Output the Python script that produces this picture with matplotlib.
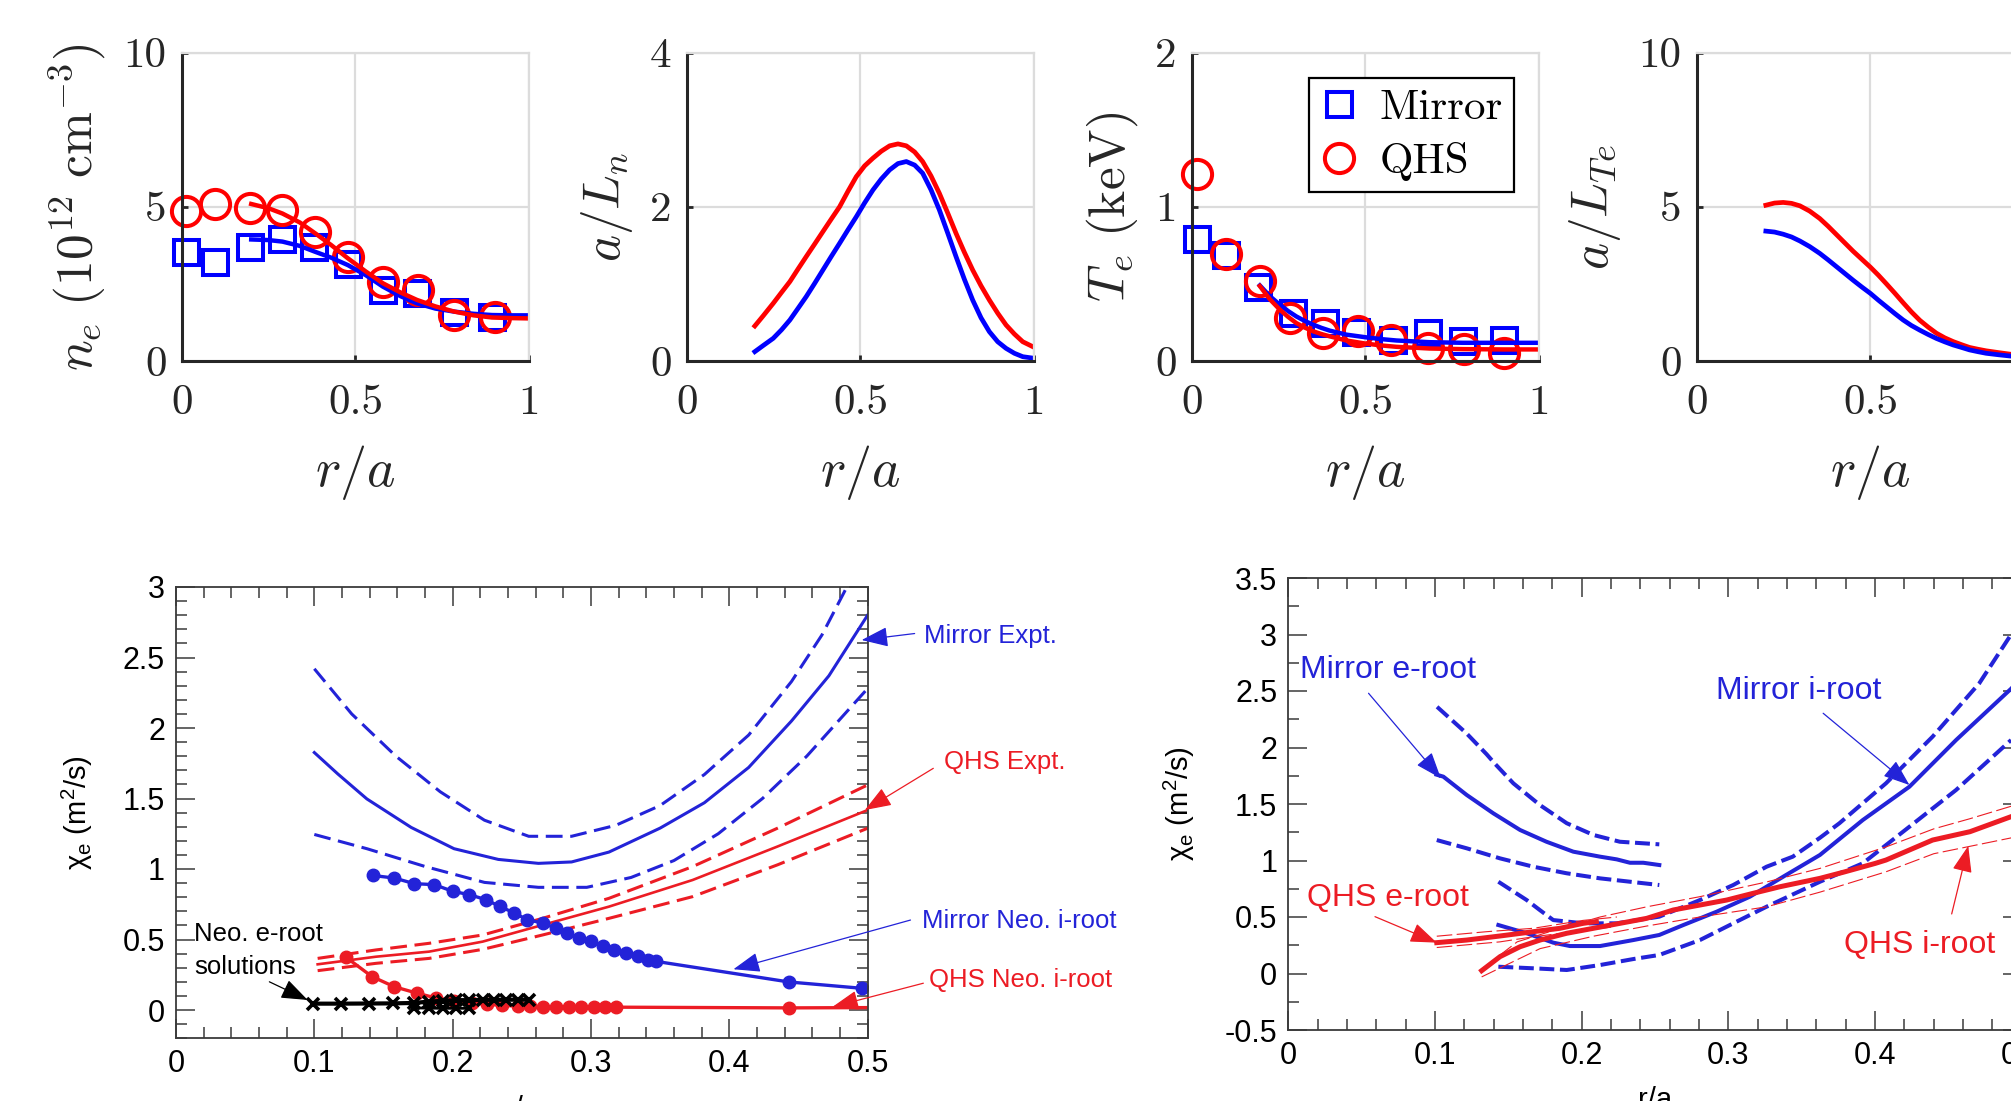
import numpy as np
import matplotlib
matplotlib.use("Agg")
import matplotlib.pyplot as plt
from matplotlib.ticker import MultipleLocator

plt.rcParams['mathtext.fontset'] = 'cm'
plt.rcParams['mathtext.rm'] = 'Liberation Sans'
plt.rcParams['mathtext.it'] = 'Liberation Sans:italic'
plt.rcParams['axes.unicode_minus'] = False
plt.rcParams['font.family'] = ['Liberation Sans', 'DejaVu Sans']

# ---------------- top row data ----------------
# density profile
ne_r = [0.012, 0.096, 0.197, 0.29, 0.381, 0.478, 0.579, 0.677, 0.785, 0.893]
ne_mirror = [3.54, 3.22, 3.70, 3.95, 3.70, 3.16, 2.30, 2.19, 1.60, 1.44]
ne_qhs_r = [0.012, 0.096, 0.197, 0.29, 0.384, 0.478, 0.579, 0.681, 0.785, 0.902]
ne_qhs = [4.87, 5.09, 4.95, 4.89, 4.19, 3.38, 2.57, 2.30, 1.49, 1.44]
nefit_r = [0.2, 0.25, 0.29, 0.34, 0.384, 0.43, 0.478, 0.53, 0.579, 0.63, 0.677, 0.73, 0.785, 0.84, 0.893, 0.95, 1.0]
nefit_mirror = [3.94, 3.92, 3.87, 3.73, 3.54, 3.35, 3.11, 2.78, 2.41, 2.10, 1.87, 1.70, 1.60, 1.53, 1.49, 1.48, 1.48]
nefit_qhs = [5.09, 4.95, 4.78, 4.49, 4.14, 3.76, 3.33, 2.90, 2.52, 2.22, 1.98, 1.77, 1.60, 1.48, 1.41, 1.39, 1.38]

# a/Ln
aln_r = [0.196, 0.22, 0.249, 0.273, 0.297, 0.32, 0.344, 0.368, 0.392, 0.416, 0.44, 0.464,
         0.488, 0.512, 0.536, 0.56, 0.584, 0.608, 0.632, 0.656, 0.679, 0.703, 0.727, 0.751,
         0.775, 0.799, 0.823, 0.847, 0.871, 0.895, 0.919, 0.943, 0.967, 1.0]
aln_qhs = [0.454, 0.585, 0.748, 0.89, 1.03, 1.19, 1.354, 1.515, 1.678, 1.84, 2.0, 2.2,
           2.39, 2.53, 2.63, 2.72, 2.79, 2.815, 2.79, 2.71, 2.586, 2.40, 2.175, 1.92,
           1.656, 1.41, 1.18, 0.975, 0.79, 0.62, 0.467, 0.35, 0.25, 0.177]
aln_mirror = [0.121, 0.2, 0.294, 0.405, 0.532, 0.68, 0.835, 1.005, 1.18, 1.355, 1.526, 1.70,
              1.87, 2.05, 2.218, 2.36, 2.478, 2.56, 2.586, 2.54, 2.435, 2.22, 1.96, 1.66,
              1.354, 1.06, 0.79, 0.56, 0.38, 0.25, 0.164, 0.10, 0.056, 0.035]

# temperature profile
te_r = [0.014, 0.098, 0.191, 0.292, 0.383, 0.474, 0.579, 0.679, 0.78, 0.9]
te_mirror = [0.792, 0.685, 0.478, 0.31, 0.246, 0.186, 0.139, 0.182, 0.128, 0.139]
te_qhs_r = [0.015, 0.098, 0.196, 0.282, 0.378, 0.478, 0.574, 0.679, 0.785, 0.9]
te_qhs = [1.21, 0.696, 0.52, 0.278, 0.182, 0.193, 0.139, 0.086, 0.075, 0.054]
tefit_r = [0.196, 0.225, 0.254, 0.278, 0.301, 0.325, 0.349, 0.373, 0.397, 0.445, 0.5, 0.545,
           0.589, 0.684, 0.78, 0.9, 1.0]
tefit_mirror = [0.49, 0.42, 0.364, 0.323, 0.289, 0.26, 0.236, 0.215, 0.197, 0.171, 0.154, 0.142,
                0.133, 0.122, 0.118, 0.118, 0.118]
tefit_qhs = [0.486, 0.40, 0.332, 0.285, 0.246, 0.217, 0.193, 0.175, 0.16, 0.133, 0.113, 0.101,
             0.092, 0.081, 0.077, 0.075, 0.075]

# a/LTe
alt_r = [0.199, 0.224, 0.249, 0.273, 0.297, 0.325, 0.354, 0.378, 0.402, 0.426, 0.45, 0.475,
         0.5, 0.523, 0.546, 0.57, 0.594, 0.618, 0.642, 0.666, 0.69, 0.714, 0.738, 0.762,
         0.785, 0.81, 0.833, 0.87, 0.903, 1.0]
alt_qhs = [5.05, 5.12, 5.14, 5.11, 5.03, 4.86, 4.62, 4.37, 4.1, 3.83, 3.56, 3.3,
           3.04, 2.78, 2.5, 2.2, 1.89, 1.59, 1.32, 1.1, 0.9, 0.75, 0.63, 0.53,
           0.44, 0.38, 0.33, 0.27, 0.22, 0.12]
alt_mirror = [4.21, 4.18, 4.11, 4.02, 3.89, 3.71, 3.49, 3.28, 3.06, 2.84, 2.62, 2.40,
              2.19, 1.97, 1.76, 1.54, 1.33, 1.15, 1.0, 0.86, 0.73, 0.62, 0.52, 0.44,
              0.36, 0.30, 0.25, 0.2, 0.16, 0.08]

# ---------------- bottom-left data (neoclassical vs expt.) ----------------
mx_r = [0.1, 0.117, 0.138, 0.17, 0.201, 0.233, 0.262, 0.286, 0.313, 0.35, 0.382, 0.414, 0.445, 0.472, 0.5]
mx_mid = [1.826, 1.674, 1.497, 1.295, 1.144, 1.068, 1.04, 1.05, 1.12, 1.29, 1.47, 1.72, 2.05, 2.37, 2.8]
mx_up_r = [0.1, 0.127, 0.159, 0.191, 0.223, 0.255, 0.286, 0.318, 0.35, 0.382, 0.414, 0.445, 0.467, 0.485]
mx_up = [2.42, 2.10, 1.80, 1.548, 1.346, 1.232, 1.232, 1.31, 1.45, 1.67, 1.95, 2.33, 2.66, 3.0]
mx_lo_r = [0.1, 0.138, 0.18, 0.223, 0.262, 0.297, 0.329, 0.36, 0.392, 0.424, 0.456, 0.5]
mx_lo = [1.245, 1.144, 1.018, 0.905, 0.87, 0.87, 0.94, 1.06, 1.25, 1.5, 1.8, 2.28]

qx_r = [0.1024, 0.1446, 0.183, 0.2217, 0.265, 0.313, 0.3735, 0.435, 0.5]
qx_mid = [0.324, 0.378, 0.414, 0.485, 0.603, 0.733, 0.922, 1.16, 1.418]
qx_up = [0.366, 0.426, 0.473, 0.532, 0.65, 0.792, 1.017, 1.29, 1.596]
qx_lo = [0.279, 0.331, 0.366, 0.43, 0.532, 0.65, 0.804, 1.03, 1.289]

mneo_r = [0.1422, 0.1578, 0.1723, 0.1868, 0.2, 0.212, 0.224, 0.234, 0.2446, 0.254, 0.265,
          0.2747, 0.283, 0.2916, 0.3, 0.3084, 0.317, 0.3253, 0.3337, 0.341, 0.347, 0.443, 0.4957]
mneo = [0.954, 0.936, 0.896, 0.889, 0.842, 0.818, 0.783, 0.735, 0.688, 0.64, 0.617,
        0.581, 0.546, 0.51, 0.487, 0.452, 0.428, 0.404, 0.381, 0.357, 0.345, 0.199, 0.154]

qneo_r = [0.1229, 0.1417, 0.1578, 0.174, 0.188, 0.201, 0.214, 0.225, 0.236, 0.247, 0.256,
          0.265, 0.275, 0.284, 0.293, 0.302, 0.31, 0.318, 0.443, 0.5]
qneo = [0.374, 0.237, 0.165, 0.12, 0.085, 0.065, 0.05, 0.04, 0.033, 0.028, 0.026,
        0.024, 0.022, 0.022, 0.021, 0.021, 0.02, 0.02, 0.015, 0.017]

eroot_r = [0.0993, 0.1193, 0.1393, 0.1566, 0.1723, 0.1831, 0.1928, 0.2024, 0.212, 0.2217,
           0.2301, 0.2385, 0.247, 0.2554]
eroot = [0.045, 0.045, 0.046, 0.047, 0.05, 0.06, 0.065, 0.07, 0.07, 0.072, 0.072, 0.073, 0.073, 0.073]
eroot2_r = [0.1723, 0.1831, 0.1928, 0.2024, 0.212]
eroot2 = [0.015, 0.013, 0.012, 0.012, 0.012]

# ---------------- bottom-right data ----------------
me_r = [0.101, 0.1057, 0.1216, 0.1397, 0.158, 0.176, 0.1943, 0.2125, 0.2239, 0.2329, 0.242, 0.2529]
me_mid = [1.76, 1.742, 1.58, 1.418, 1.27, 1.166, 1.078, 1.034, 1.01, 0.98, 0.98, 0.96]
me_up_r = [0.1014, 0.1215, 0.1352, 0.1406, 0.1534, 0.1716, 0.1898, 0.208, 0.226, 0.2529]
me_up = [2.36, 2.125, 1.94, 1.86, 1.683, 1.49, 1.33, 1.226, 1.166, 1.143]
me_lo_r = [0.1012, 0.1216, 0.1443, 0.167, 0.1897, 0.2125, 0.2529]
me_lo = [1.181, 1.108, 1.019, 0.945, 0.887, 0.842, 0.783]

mi_r = [0.1432, 0.1625, 0.1806, 0.192, 0.2125, 0.2352, 0.2529, 0.2693, 0.292, 0.3147, 0.3374,
        0.3624, 0.3916, 0.4234, 0.4552, 0.4927, 0.5]
mi_mid = [0.429, 0.356, 0.273, 0.243, 0.243, 0.296, 0.341, 0.429, 0.547, 0.68, 0.857,
          1.049, 1.358, 1.653, 2.066, 2.52, 2.62]
mi_up_r = [0.1432, 0.1625, 0.1716, 0.1806, 0.201, 0.2239, 0.2529, 0.2806, 0.3033, 0.326,
           0.3439, 0.3623, 0.3757, 0.4074, 0.4392, 0.471, 0.4917]
mi_up = [0.812, 0.65, 0.56, 0.473, 0.444, 0.444, 0.503, 0.65, 0.783, 0.945,
         1.034, 1.2, 1.33, 1.683, 2.096, 2.568, 2.98]
mi_lo_r = [0.1432, 0.167, 0.1898, 0.2125, 0.2352, 0.2529, 0.2806, 0.3033, 0.326, 0.3624,
           0.3916, 0.4234, 0.4552, 0.4927]
mi_lo = [0.06, 0.046, 0.031, 0.075, 0.128, 0.164, 0.296, 0.444, 0.591, 0.812,
         0.975, 1.299, 1.624, 2.066]

qi_r = [0.1318, 0.1443, 0.158, 0.1716, 0.1898, 0.208, 0.2261, 0.2443, 0.2624, 0.2806, 0.2988,
        0.317, 0.3352, 0.3624, 0.378, 0.4, 0.4074, 0.4392, 0.4647, 0.4927, 0.5]
qi_mid = [0.025, 0.149, 0.237, 0.296, 0.356, 0.4, 0.444, 0.488, 0.562, 0.606, 0.65,
          0.71, 0.768, 0.842, 0.895, 0.974, 1.004, 1.181, 1.255, 1.388, 1.42]
qi_up_r = [0.133, 0.156, 0.1806, 0.2125, 0.2443, 0.2806, 0.326, 0.3624, 0.4074, 0.44, 0.4647, 0.4927]
qi_up = [0.05, 0.28, 0.38, 0.5, 0.59, 0.68, 0.81, 0.93, 1.12, 1.28, 1.37, 1.48]
qi_lo_r = [0.1318, 0.1716, 0.208, 0.2443, 0.2806, 0.326, 0.3624, 0.4074, 0.44, 0.4927]
qi_lo = [-0.03, 0.22, 0.33, 0.42, 0.5, 0.59, 0.72, 0.9, 1.06, 1.2]

qe_r = [0.1012, 0.1216, 0.1443, 0.167, 0.1852, 0.201, 0.21]
qe_mid = [0.273, 0.296, 0.332, 0.37, 0.4, 0.444, 0.46]
qe_up_r = [0.1012, 0.1352, 0.167, 0.201, 0.224]
qe_up = [0.33, 0.37, 0.40, 0.47, 0.50]
qe_lo_r = [0.1012, 0.1443, 0.167, 0.201, 0.22]
qe_lo = [0.23, 0.28, 0.325, 0.38, 0.41]

BLUE = '#0000ff'
RED = '#ff0000'
BL2 = '#2323d8'
RD2 = '#ec1c24'
GRIDC = '#dcdcdc'
INK = '#262626'

fig = plt.figure(figsize=(20.11, 11.01), dpi=100)
W, H = 2011.0, 1101.0


def px_rect(left, top, right, bottom):
    return [left / W, 1 - bottom / H, (right - left) / W, (bottom - top) / H]


def top_panel(left, ylim, yticks, ylabel):
    ax = fig.add_axes(px_rect(left, 52.5, left + 347.5, 361))
    ax.set_xlim(0, 1)
    ax.set_ylim(*ylim)
    ax.set_xticks([0, 0.5, 1])
    ax.set_xticklabels(['0', '0.5', '1'])
    ax.set_yticks(yticks)
    ax.set_yticklabels([str(t) for t in yticks])
    ax.grid(True, color=GRIDC, lw=1.6)
    ax.set_axisbelow(True)
    for s in ['top', 'right']:
        ax.spines[s].set_color(GRIDC)
        ax.spines[s].set_linewidth(1.6)
    for s in ['left', 'bottom']:
        ax.spines[s].set_color(INK)
        ax.spines[s].set_linewidth(2.2)
    ax.tick_params(direction='in', length=4.5, width=2, colors=INK, labelsize=31,
                   labelfontfamily='cmr10', top=False, right=False)
    ax.tick_params(axis='x', pad=17)
    ax.tick_params(axis='y', pad=11)
    ax.set_xlabel(r'$r/a$', fontsize=39, labelpad=15, color=INK)
    ax.set_ylabel(ylabel, fontsize=37, labelpad=11, color=INK)
    return ax


mk = dict(ls='none', mfc='none', mew=2.9, clip_on=False)

ax1 = top_panel(181.7, (0, 10), [0, 5, 10], r'$n_e\ (10^{12}\ \mathrm{cm}^{-3})$')
ax1.plot(ne_r, ne_mirror, marker='s', ms=18, mec=BLUE, **mk)
ax1.plot(ne_qhs_r, ne_qhs, marker='o', ms=21, mec=RED, **mk)
ax1.plot(nefit_r, nefit_mirror, color=BLUE, lw=3.2)
ax1.plot(nefit_r, nefit_qhs, color=RED, lw=3.2)

ax2 = top_panel(686.7, (0, 4), [0, 2, 4], r'$a/L_n$')
ax2.plot(aln_r, aln_qhs, color=RED, lw=3.4)
ax2.plot(aln_r, aln_mirror, color=BLUE, lw=3.4)

ax3 = top_panel(1191.7, (0, 2), [0, 1, 2], r'$T_e\ (\mathrm{keV})$')
h1, = ax3.plot(te_r, te_mirror, marker='s', ms=18, mec=BLUE, label='Mirror', **mk)
h2, = ax3.plot(te_qhs_r, te_qhs, marker='o', ms=21, mec=RED, label='QHS', **mk)
ax3.plot(tefit_r, tefit_mirror, color=BLUE, lw=3.2)
ax3.plot(tefit_r, tefit_qhs, color=RED, lw=3.2)
leg = ax3.legend(handles=[h1, h2], loc='upper right', bbox_to_anchor=(0.927, 0.917),
                 borderaxespad=0, fancybox=False, framealpha=1, edgecolor='black',
                 prop={'family': 'cmr10', 'size': 31}, handlelength=0.9,
                 handletextpad=0.5, borderpad=0.25, labelspacing=0.35)
leg.get_frame().set_linewidth(1.6)

ax4 = top_panel(1696.7, (0, 10), [0, 5, 10], r'$a/L_{Te}$')
ax4.plot(alt_r, alt_qhs, color=RED, lw=3.4)
ax4.plot(alt_r, alt_mirror, color=BLUE, lw=3.4)


def bottom_panel(rect, ylim, ymaj, ymin):
    ax = fig.add_axes(rect)
    ax.set_xlim(0, 0.5)
    ax.set_ylim(*ylim)
    ax.xaxis.set_major_locator(MultipleLocator(0.1))
    ax.xaxis.set_minor_locator(MultipleLocator(0.02))
    ax.yaxis.set_major_locator(MultipleLocator(ymaj))
    ax.yaxis.set_minor_locator(MultipleLocator(ymin))
    ax.xaxis.set_major_formatter(plt.FuncFormatter(lambda v, p: ('%g' % round(v, 2))))
    ax.yaxis.set_major_formatter(plt.FuncFormatter(lambda v, p: ('%g' % round(v, 2))))
    for s in ax.spines.values():
        s.set_color('#3a3a3a')
        s.set_linewidth(1.3)
    ax.tick_params(which='both', direction='in', top=True, right=True, colors='#3a3a3a',
                   labelcolor='black', labelsize=22, width=1.1)
    ax.tick_params(which='major', length=14, pad=8)
    ax.tick_params(which='minor', length=8)
    ax.set_ylabel('χ$_\\mathrm{e}$ (m$^2$/s)', fontsize=21, labelpad=20, math_fontfamily='custom')
    ax.set_xlabel('r/a', fontsize=21, labelpad=11)
    return ax


def arrow(ax, tail, tip, color, lw=0.9):
    ax.annotate('', xy=tip, xytext=tail, annotation_clip=False,
                arrowprops=dict(arrowstyle='-|>,head_length=0.75,head_width=0.28', color=color,
                                lw=lw, shrinkA=0, shrinkB=0, mutation_scale=22))


# bottom-left panel
ax5 = bottom_panel(px_rect(176, 587, 867.6, 1038.2), (-0.2, 3), 0.5, 0.1)
dsh = (5.5, 2.5)
ax5.plot(mx_r, mx_mid, color=BL2, lw=2.2)
ax5.plot(mx_up_r, mx_up, color=BL2, lw=2.2, dashes=dsh)
ax5.plot(mx_lo_r, mx_lo, color=BL2, lw=2.2, dashes=dsh)
ax5.plot(qx_r, qx_mid, color=RD2, lw=1.9)
ax5.plot(qx_r, qx_up, color=RD2, lw=2.2, dashes=dsh)
ax5.plot(qx_r, qx_lo, color=RD2, lw=2.2, dashes=dsh)
ax5.plot(mneo_r, mneo, color=BL2, lw=2.4, marker='o', ms=9)
ax5.plot(qneo_r, qneo, color=RD2, lw=2.4, marker='o', ms=9, markevery=slice(0, -1))
ax5.plot(eroot_r, eroot, color='black', lw=3, marker='x', ms=9, mew=2.6)
ax5.plot(eroot2_r, eroot2, color='black', lw=2, marker='x', ms=9, mew=2.6)

fs1 = 18.5
ax5.text(0.5408, 2.60, 'Mirror Expt.', color=BL2, fontsize=fs1, va='baseline')
ax5.text(0.555, 1.709, 'QHS Expt.', color=RD2, fontsize=fs1, va='baseline')
ax5.text(0.539, 0.579, 'Mirror Neo. i-root', color=BL2, fontsize=fs1, va='baseline')
ax5.text(0.5446, 0.165, 'QHS Neo. i-root', color=RD2, fontsize=fs1, va='baseline')
ax5.text(0.0132, 0.489, 'Neo. e-root', color='black', fontsize=fs1, va='baseline')
ax5.text(0.0132, 0.253, 'solutions', color='black', fontsize=fs1, va='baseline')
arrow(ax5, (0.534, 2.67), (0.4957, 2.624), BL2)
arrow(ax5, (0.5475, 1.714), (0.498, 1.418), RD2)
arrow(ax5, (0.531, 0.638), (0.403, 0.289), BL2)
arrow(ax5, (0.5403, 0.19), (0.4746, 0.022), RD2)
arrow(ax5, (0.0675, 0.2), (0.0952, 0.071), 'black')

# bottom-right panel
ax6 = bottom_panel(px_rect(1288.3, 578, 2021.8, 1030), (-0.5, 3.5), 0.5, 0.25)
lw6 = 2.9
d6 = (3.7, 1.4)
ax6.plot(me_r, me_mid, color=BL2, lw=lw6)
ax6.plot(me_up_r, me_up, color=BL2, lw=lw6, dashes=d6)
ax6.plot(me_lo_r, me_lo, color=BL2, lw=lw6, dashes=d6)
ax6.plot(mi_r, mi_mid, color=BL2, lw=lw6)
ax6.plot(mi_up_r, mi_up, color=BL2, lw=lw6, dashes=d6)
ax6.plot(mi_lo_r, mi_lo, color=BL2, lw=lw6, dashes=d6)
thin = (14, 4)
ax6.plot(qi_up_r, qi_up, color=RD2, lw=0.8, dashes=thin)
ax6.plot(qi_lo_r, qi_lo, color=RD2, lw=0.8, dashes=thin)
ax6.plot(qe_up_r, qe_up, color=RD2, lw=0.8, dashes=thin)
ax6.plot(qe_lo_r, qe_lo, color=RD2, lw=0.8, dashes=thin)
ax6.plot(qi_r, qi_mid, color=RD2, lw=3.6)
ax6.plot(qe_r, qe_mid, color=RD2, lw=3.6)

fs2 = 23
ax6.text(0.0077, 2.612, 'Mirror e-root', color=BL2, fontsize=fs2, va='baseline')
ax6.text(0.2915, 2.429, 'Mirror i-root', color=BL2, fontsize=fs2, va='baseline')
ax6.text(0.0125, 0.60, 'QHS e-root', color=RD2, fontsize=fs2, va='baseline')
ax6.text(0.379, 0.18, 'QHS i-root', color=RD2, fontsize=fs2, va='baseline')
arrow(ax6, (0.0547, 2.48), (0.104, 1.727), BL2)
arrow(ax6, (0.3646, 2.303), (0.4234, 1.668), BL2)
arrow(ax6, (0.0591, 0.503), (0.1012, 0.273), RD2)
arrow(ax6, (0.4522, 0.527), (0.4635, 1.129), RD2)

fig.savefig('out.png', dpi=100)
